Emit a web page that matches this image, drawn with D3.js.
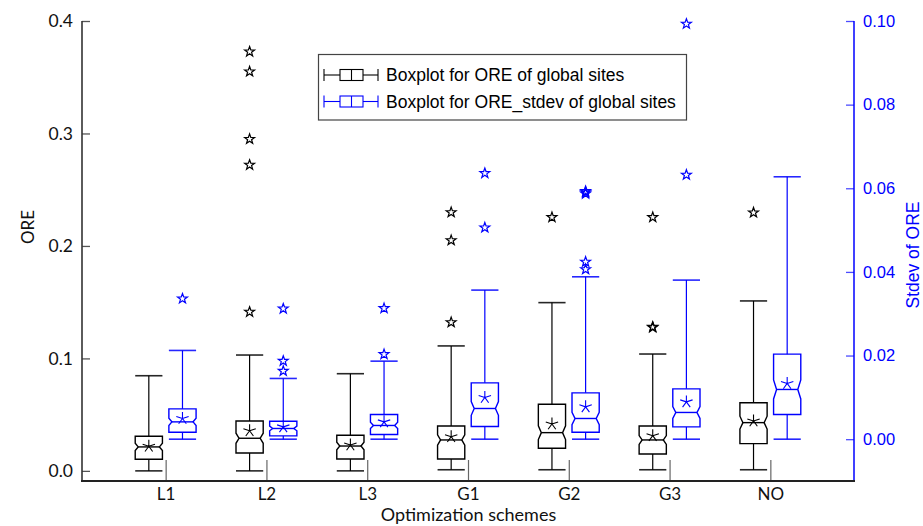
<!DOCTYPE html>
<html>
<head>
<meta charset="utf-8">
<script src="https://cdn.jsdelivr.net/npm/d3@7"></script>
<style>
  html, body { margin: 0; padding: 0; background: #fff; }
  svg { display: block; }
</style>
</head>
<body>
<svg id="chart" width="923" height="526"></svg>
<script>
// ---------------- DATA ----------------
const categories = ["L1", "L2", "L3", "G1", "G2", "G3", "NO"];

// ORE boxplot statistics (left axis)
const oreLow    = [0.000, 0.000, 0.000, 0.001, 0.001, 0.001, 0.001];
const oreQ1     = [0.0103, 0.0159, 0.0106, 0.0106, 0.0201, 0.0150, 0.0242];
const oreMedian = [0.0213, 0.0290, 0.0221, 0.0275, 0.0340, 0.0275, 0.0429];
const oreQ3     = [0.0308, 0.0444, 0.0317, 0.0399, 0.0592, 0.0399, 0.0606];
const oreHigh   = [0.0846, 0.1030, 0.0864, 0.1111, 0.1496, 0.1039, 0.1511];
const oreMean   = [0.0219, 0.0357, 0.0230, 0.0304, 0.0417, 0.0313, 0.0444];
const oreOutliers = [
  [],
  [0.1413, 0.272, 0.295, 0.355, 0.3727],
  [],
  [0.1321, 0.205, 0.2299],
  [0.2255],
  [0.1275, 0.128, 0.2255],
  [0.2296]
];

// ORE_stdev boxplot statistics (right axis)
const sdLow    = [0.0000, 0.0000, 0.0000, 0.0000, 0.0000, 0.0000, 0.0000];
const sdQ1     = [0.00167, 0.00079, 0.00112, 0.00304, 0.00167, 0.00294, 0.00591];
const sdMedian = [0.00414, 0.00256, 0.00328, 0.00734, 0.00495, 0.00639, 0.01189];
const sdQ3     = [0.00725, 0.00430, 0.00591, 0.01347, 0.01108, 0.01203, 0.02033];
const sdHigh   = [0.02122, 0.01452, 0.01866, 0.03565, 0.03883, 0.03804, 0.06275];
const sdMean   = [0.00495, 0.00294, 0.00414, 0.00998, 0.00773, 0.00892, 0.01333];
const sdOutliers = [
  [0.0336],
  [0.0163, 0.0187, 0.0312],
  [0.0203, 0.0313],
  [0.0506, 0.0636],
  [0.0406, 0.0424, 0.0587, 0.0590, 0.0593],
  [0.0632, 0.0993],
  []
];

const leftTicks  = [0.0, 0.1, 0.2, 0.3, 0.4];
const rightTicks = [0.00, 0.02, 0.04, 0.06, 0.08, 0.10];
const sampleSize = 100;   // used for notch size
const legendLabels = ["Boxplot for ORE of global sites", "Boxplot for ORE_stdev of global sites"];

// ---------------- LAYOUT ----------------
const svg = d3.select("#chart");
const pL = 82, pR = 854, pT = 21, pB = 481;
const BLUE = "#0000ff";
const HUM = "Lato, 'Open Sans', sans-serif";
const ARIAL = "'Liberation Sans', Arial, sans-serif";

const x = d3.scalePoint().domain(categories).range([pL, pR]).padding(0.83);
const yL = d3.scaleLinear().domain([-0.009, 0.4]).range([pB, pT]);
const yR = d3.scaleLinear().domain([-0.01, 0.1]).range([pB, pT]);
const step = x.step();
const offset = step * 0.167;
const hw = step * 0.135;
const indent = 3;

function starPath(cx, cy, R) {
  const r = R * 0.40;
  let d = "";
  for (let i = 0; i < 10; i++) {
    const a = -Math.PI / 2 + i * Math.PI / 5;
    const rr = i % 2 === 0 ? R : r;
    d += (i === 0 ? "M" : "L") + (cx + rr * Math.cos(a)).toFixed(2) + "," + (cy + rr * Math.sin(a)).toFixed(2);
  }
  return d + "Z";
}
function asteriskPath(cx, cy, R) {
  let d = "";
  for (let i = 0; i < 5; i++) {
    const a = -Math.PI / 2 + i * 2 * Math.PI / 5;
    d += "M" + cx + "," + cy + "L" + (cx + R * Math.cos(a)).toFixed(2) + "," + (cy + R * Math.sin(a)).toFixed(2);
  }
  return d;
}

function drawBox(g, cx, s, y, color) {
  const yq1 = y(s.q1), yq3 = y(s.q3), ym = y(s.med);
  const nh = 1.57 * (s.q3 - s.q1) / Math.sqrt(sampleSize);
  const ynt = Math.max(y(s.med + nh), yq3), ynb = Math.min(y(s.med - nh), yq1);
  g.append("line").attr("x1", cx).attr("x2", cx).attr("y1", yq3).attr("y2", y(s.high))
    .attr("stroke", color).attr("stroke-width", 1.2);
  g.append("line").attr("x1", cx).attr("x2", cx).attr("y1", yq1).attr("y2", y(s.low))
    .attr("stroke", color).attr("stroke-width", 1.2);
  [s.high, s.low].forEach(v => {
    g.append("line").attr("x1", cx - hw).attr("x2", cx + hw).attr("y1", y(v)).attr("y2", y(v))
      .attr("stroke", color).attr("stroke-width", 1.6).attr("stroke-opacity", 0.85);
  });
  const p = [
    [cx - hw, yq3], [cx + hw, yq3], [cx + hw, ynt], [cx + hw - indent, ym], [cx + hw, ynb],
    [cx + hw, yq1], [cx - hw, yq1], [cx - hw, ynb], [cx - hw + indent, ym], [cx - hw, ynt]
  ];
  g.append("path").attr("d", "M" + p.map(q => q.join(",")).join("L") + "Z")
    .attr("fill", "none").attr("stroke", color).attr("stroke-width", 1.4);
  g.append("line").attr("x1", cx - hw + indent).attr("x2", cx + hw - indent).attr("y1", ym).attr("y2", ym)
    .attr("stroke", color).attr("stroke-width", 1.4);
  g.append("path").attr("d", asteriskPath(cx, y(s.mean), 6.5))
    .attr("fill", "none").attr("stroke", color).attr("stroke-width", 1.1);
  s.out.forEach(v => {
    g.append("path").attr("d", starPath(cx, y(v), 5.2))
      .attr("fill", "none").attr("stroke", color).attr("stroke-width", 1.2);
  });
}

const gBoxes = svg.append("g");
categories.forEach((c, i) => {
  drawBox(gBoxes, x(c) - offset,
    {low: oreLow[i], q1: oreQ1[i], med: oreMedian[i], q3: oreQ3[i], high: oreHigh[i], mean: oreMean[i], out: oreOutliers[i]},
    yL, "#000");
  drawBox(gBoxes, x(c) + offset,
    {low: sdLow[i], q1: sdQ1[i], med: sdMedian[i], q3: sdQ3[i], high: sdHigh[i], mean: sdMean[i], out: sdOutliers[i]},
    yR, BLUE);
});

// ---------------- AXES ----------------
const gL = svg.append("g").attr("transform", `translate(${pL},0)`)
  .call(d3.axisRight(yL).tickValues(leftTicks).tickFormat(d3.format(".1f")).tickSize(8));
gL.select(".domain").remove();
gL.selectAll(".tick line").attr("stroke", "#555").attr("stroke-width", 1.3);
gL.selectAll(".tick text").attr("text-anchor", "end").attr("x", -9)
  .style("font-family", HUM).style("font-size", "17.5px").attr("fill", "#111");
svg.append("line").attr("x1", pL).attr("x2", pL).attr("y1", pT).attr("y2", pB + 1)
  .attr("stroke", "#333").attr("stroke-width", 1.6);

const gR = svg.append("g").attr("transform", `translate(${pR},0)`)
  .call(d3.axisLeft(yR).tickValues(rightTicks).tickFormat(d3.format(".2f")).tickSize(8));
gR.select(".domain").remove();
gR.selectAll(".tick line").attr("stroke", BLUE).attr("stroke-opacity", 0.7).attr("stroke-width", 1.3);
gR.selectAll(".tick text").attr("text-anchor", "start").attr("x", 9)
  .style("font-family", ARIAL).style("font-size", "16.5px").attr("fill", BLUE);
svg.append("line").attr("x1", pR).attr("x2", pR).attr("y1", pT).attr("y2", pB + 1)
  .attr("stroke", BLUE).attr("stroke-width", 1.5);

const gB = svg.append("g").attr("transform", `translate(0,${pB})`)
  .call(d3.axisTop(x).tickSize(21));
gB.select(".domain").remove();
gB.selectAll(".tick line").attr("stroke", "#666").attr("stroke-width", 1.2);
gB.selectAll(".tick text").attr("y", 18.5).attr("dy", "0")
  .style("font-family", HUM).style("font-size", "17px").attr("fill", "#111");
svg.append("line").attr("x1", pL - 1).attr("x2", pR + 1).attr("y1", pB).attr("y2", pB)
  .attr("stroke", "#222").attr("stroke-width", 2);

svg.append("text").attr("transform", "translate(34,227) rotate(-90)").attr("text-anchor", "middle")
  .style("font-family", HUM).style("font-size", "17px").attr("fill", "#111").text("ORE");
svg.append("text").attr("transform", "translate(919,255) rotate(-90)").attr("text-anchor", "middle")
  .style("font-family", ARIAL).style("font-size", "17.5px").attr("fill", BLUE).text("Stdev of ORE");
svg.append("text").attr("x", (pL + pR) / 2 + 0.5).attr("y", 521).attr("text-anchor", "middle")
  .style("font-family", HUM).style("font-size", "18px").attr("fill", "#111").text("Optimization schemes");

// ---------------- LEGEND ----------------
const lg = svg.append("g");
lg.append("rect").attr("x", 318.5).attr("y", 54.5).attr("width", 368).attr("height", 65.5)
  .attr("fill", "#fff").attr("stroke", "#444").attr("stroke-width", 1.2);
[["#000", 0], [BLUE, 1]].forEach(([col, i]) => {
  const cy = 75 + i * 26.5;
  const it = lg.append("g").attr("stroke", col).attr("fill", "none").attr("stroke-width", 1.1);
  it.append("line").attr("x1", 324).attr("x2", 324).attr("y1", cy - 6).attr("y2", cy + 6);
  it.append("line").attr("x1", 324).attr("x2", 340).attr("y1", cy).attr("y2", cy);
  it.append("rect").attr("x", 340).attr("y", cy - 5.5).attr("width", 23).attr("height", 11);
  it.append("line").attr("x1", 351.5).attr("x2", 351.5).attr("y1", cy - 5.5).attr("y2", cy + 5.5);
  it.append("line").attr("x1", 363).attr("x2", 378).attr("y1", cy).attr("y2", cy);
  it.append("line").attr("x1", 378).attr("x2", 378).attr("y1", cy - 6).attr("y2", cy + 6);
  lg.append("text").attr("x", 386).attr("y", cy + 6)
    .style("font-family", ARIAL).style("font-size", "17.5px")
    .attr("fill", "#000").text(legendLabels[i]);
});
</script>
</body>
</html>
